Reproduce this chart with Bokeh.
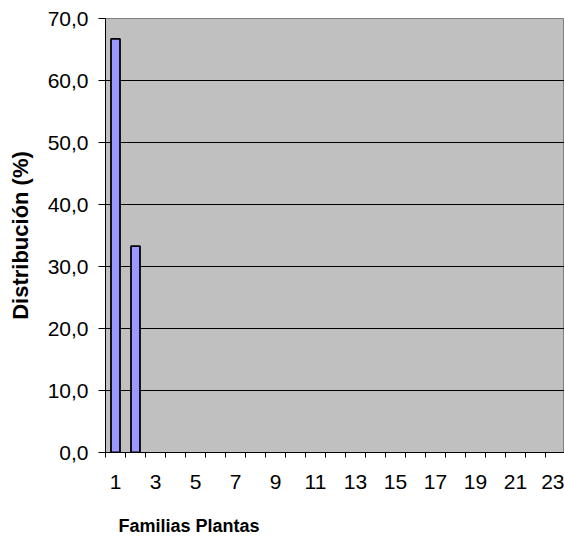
from bokeh.plotting import figure
from bokeh.models import FixedTicker, CustomJSTickFormatter, Range1d, Title, ColumnDataSource
from bokeh.embed import file_html
from bokeh.resources import INLINE

# Data
familias = [1, 2]
distribucion = [66.7, 33.3]
x_tick_labels = [1, 3, 5, 7, 9, 11, 13, 15, 17, 19, 21, 23]
y_ticks = [0, 10, 20, 30, 40, 50, 60, 70]

src = ColumnDataSource(data=dict(x=familias, y=distribucion))

p = figure(width=564, height=544, output_backend="svg", toolbar_location=None,
           x_range=Range1d(0.5, 23.45), y_range=Range1d(0, 70),
           min_border_left=105, min_border_right=0, min_border_top=18, min_border_bottom=92)

p.background_fill_color = "#C0C0C0"
p.border_fill_color = "white"
p.outline_line_color = "#808080"
p.outline_line_width = 1

p.vbar(x="x", top="y", width=0.45, source=src, fill_color="#9999FF",
       line_color="black", line_width=1.8)

font = "Liberation Sans"

# x axis
xa = p.xaxis[0]
xa.ticker = FixedTicker(ticks=x_tick_labels,
                        minor_ticks=[i + 0.5 for i in range(0, 25)])
xa.major_tick_out = 0
xa.major_tick_in = 0
xa.minor_tick_out = 5
xa.minor_tick_in = 0
xa.minor_tick_line_color = "black"
xa.axis_line_color = "black"
xa.major_label_standoff = 17
xa.major_label_text_font = font
xa.major_label_text_font_size = "21px"
xa.major_label_text_color = "black"
# invisible spacer label to push the left-aligned title down
xa.axis_label = " "
xa.axis_label_text_font_size = "1px"
xa.axis_label_standoff = 10

# y axis
ya = p.yaxis[0]
ya.ticker = FixedTicker(ticks=y_ticks)
ya.formatter = CustomJSTickFormatter(code="return tick.toFixed(1).replace('.', ',');")
ya.major_tick_out = 7
ya.major_tick_in = 0
ya.minor_tick_out = 0
ya.minor_tick_in = 0
ya.major_tick_line_color = "black"
ya.axis_line_color = "black"
ya.major_label_standoff = 10
ya.major_label_text_font = font
ya.major_label_text_font_size = "21px"
ya.major_label_text_color = "black"
ya.axis_label = "Distribución (%)"
ya.axis_label_text_font = font
ya.axis_label_text_font_size = "22px"
ya.axis_label_text_font_style = "bold"
ya.axis_label_text_color = "black"
ya.axis_label_standoff = 12

# grid
p.xgrid.grid_line_color = None
p.ygrid.ticker = FixedTicker(ticks=[10, 20, 30, 40, 50, 60])
p.ygrid.grid_line_color = "black"
p.ygrid.grid_line_width = 1

# x axis title (left-aligned, as in the original)
t = Title(text="Familias Plantas", align="left", offset=13,
          text_font=font, text_font_size="18px", text_font_style="bold",
          text_color="black", standoff=17)
p.add_layout(t, "below")

open("out.html", "w").write(file_html(p, INLINE))
